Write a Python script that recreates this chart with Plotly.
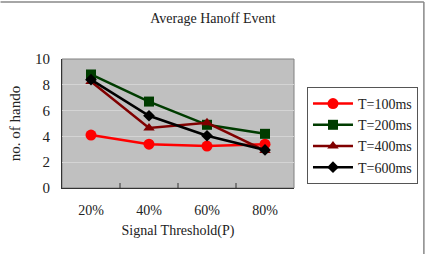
import plotly.graph_objects as go

categories = ["20%", "40%", "60%", "80%"]
t100 = [4.1, 3.4, 3.25, 3.4]
t200 = [8.8, 6.7, 4.9, 4.2]
t400 = [8.25, 4.65, 5.05, 2.9]
t600 = [8.4, 5.6, 4.05, 2.95]
series_names = ["T=100ms", "T=200ms", "T=400ms", "T=600ms"]
colors = ["#ff0000", "#003c00", "#800000", "#000000"]
symbols = ["circle", "square", "triangle-up", "diamond"]
sizes = [11, 10, 10, 9]

FONT = "Liberation Serif"
fig = go.Figure()
for name, vals, c, s, sz in zip(series_names, [t100, t200, t400, t600], colors, symbols, sizes):
    fig.add_trace(go.Scatter(x=list(range(len(categories))), y=vals, name=name, mode="lines+markers",
                             line=dict(color=c, width=2.5),
                             marker=dict(symbol=s, size=sz, color=c)))

fig.update_layout(
    width=430, height=254,
    margin=dict(l=62, r=134, t=59, b=66),
    paper_bgcolor="white", plot_bgcolor="#c0c0c0",
    font=dict(family=FONT, size=14, color="#222"),
    title=dict(text="Average Hanoff Event", x=213/430, xanchor="center", y=1-18/254, yanchor="middle",
               font=dict(size=14, family=FONT, color="#222")),
    legend=dict(x=1.056, y=0.783, xanchor="left", yanchor="top",
                bordercolor="#555", borderwidth=1, bgcolor="white",
                font=dict(size=14, family=FONT), tracegroupgap=0, itemwidth=40),
    showlegend=True,
)
fig.update_xaxes(range=[-0.5, 3.5], tickmode="array", tickvals=list(range(4)), ticktext=categories,
                 showgrid=False, zeroline=False, showline=True, linecolor="#333", linewidth=1,
                 ticks="", ticklabelstandoff=9,
                 title=dict(text="Signal Threshold(P)", font=dict(size=14, family=FONT), standoff=8))
fig.update_yaxes(range=[0, 10], dtick=2, showgrid=True, gridcolor="#d4d4d4", gridwidth=1,
                 zeroline=False, showline=True, linecolor="#333", linewidth=1, ticks="",
                 ticklabelstandoff=8, tickfont=dict(size=15),
                 title=dict(text="no. of hando", font=dict(size=15, family=FONT), standoff=10))
# top/right plot border
fig.add_shape(type="rect", xref="paper", yref="paper", x0=0, y0=0, x1=1, y1=1,
              line=dict(color="#808080", width=1), layer="below")
# inward tick marks at category boundaries
for b in [0.5, 1.5, 2.5]:
    fig.add_shape(type="line", xref="x", yref="paper", x0=b, x1=b, y0=0, y1=5/129,
                  line=dict(color="#333", width=1))
# outer frame lines (top and right)
fig.add_shape(type="line", xref="paper", yref="paper", x0=-62/234, x1=(427-62)/234,
              y0=(188-2)/129, y1=(188-2)/129, line=dict(color="#888", width=1.5))
fig.add_shape(type="line", xref="paper", yref="paper", x0=(427-62)/234, x1=(427-62)/234,
              y0=(188-2)/129, y1=-66/129, line=dict(color="#888", width=1.5))
fig.write_html("out.html")
